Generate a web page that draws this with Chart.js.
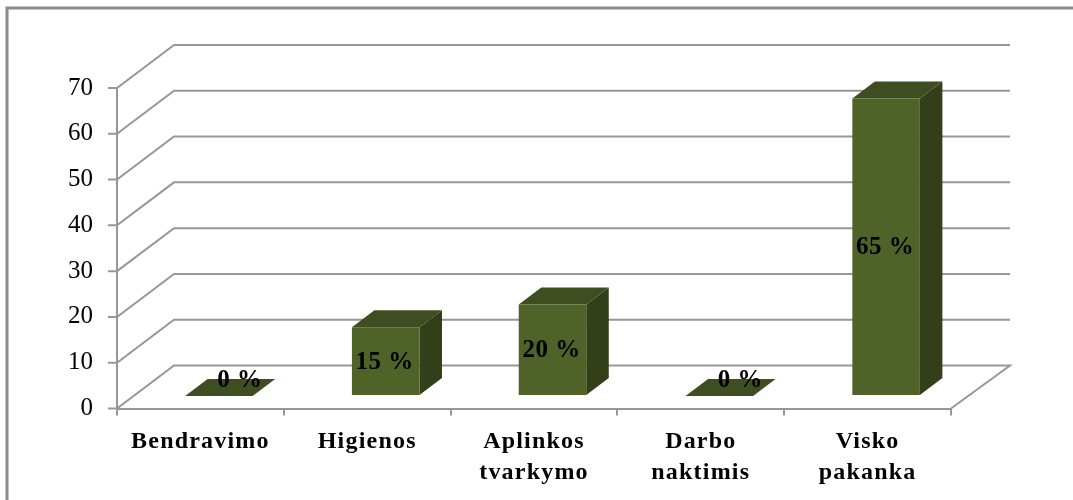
<!DOCTYPE html>
<html lang="lt">
<head>
    <meta charset="UTF-8">
    <title>Chart</title>
    <script src="https://cdn.jsdelivr.net/npm/chart.js"></script>
    <style>
        html, body { margin: 0; padding: 0; background: #fff; overflow: hidden; }
        canvas { display: block; }
    </style>
</head>
<body>
    <canvas id="chart" width="1073" height="500"></canvas>

    <script>
        const categories = [['Bendravimo'], ['Higienos'], ['Aplinkos', 'tvarkymo'], ['Darbo', 'naktimis'], ['Visko', 'pakanka']];
        const values = [0, 15, 20, 0, 65];
        const yTicks = [0, 10, 20, 30, 40, 50, 60, 70];

        const serif = "'Liberation Serif', serif";
        const gridColor = '#979797';
        const depthX = 57, depthY = -43;         // floor depth
        const barShiftX = 18.5, barShiftY = -12.5; // bars stand inside the floor
        const barDepthX = 22.5, barDepthY = -17;

        // frame, walls and floor grid behind the bars
        const wallsPlugin = {
            id: 'walls',
            beforeDraw(chart) {
                const ctx = chart.ctx;
                ctx.save();
                ctx.strokeStyle = '#8a8a8a';
                ctx.lineWidth = 3;
                ctx.beginPath();
                ctx.moveTo(7, 500);
                ctx.lineTo(7, 8);
                ctx.lineTo(1073, 8);
                ctx.stroke();
                ctx.restore();
            },
            beforeDatasetsDraw(chart) {
                const ctx = chart.ctx;
                const { left, right } = chart.chartArea;
                ctx.save();
                ctx.strokeStyle = gridColor;
                ctx.lineWidth = 2;
                yTicks.forEach(v => {
                    const y = chart.scales.y.getPixelForValue(v);
                    ctx.beginPath();
                    ctx.moveTo(left - 9, y);
                    ctx.lineTo(left, y);
                    ctx.lineTo(left + depthX, y + depthY);
                    ctx.lineTo(right + depthX + 2, y + depthY);
                    if (v === 0) ctx.lineTo(right, y);
                    ctx.stroke();
                });
                ctx.restore();
            },
            // bars are moved into the floor, side and top faces added
            beforeDatasetDraw(chart) {
                const ctx = chart.ctx;
                ctx.save();
                ctx.translate(barShiftX, barShiftY);
                chart.getDatasetMeta(0).data.forEach(bar => {
                    const x0 = bar.x - bar.width / 2, x1 = bar.x + bar.width / 2;
                    ctx.fillStyle = '#333f18';
                    ctx.beginPath();
                    ctx.moveTo(x1, bar.y);
                    ctx.lineTo(x1 + barDepthX, bar.y + barDepthY);
                    ctx.lineTo(x1 + barDepthX, bar.base + barDepthY);
                    ctx.lineTo(x1, bar.base);
                    ctx.closePath();
                    ctx.fill();
                    ctx.fillStyle = '#3f4e20';
                    ctx.beginPath();
                    ctx.moveTo(x0, bar.y);
                    ctx.lineTo(x0 + barDepthX, bar.y + barDepthY);
                    ctx.lineTo(x1 + barDepthX, bar.y + barDepthY);
                    ctx.lineTo(x1, bar.y);
                    ctx.closePath();
                    ctx.fill();
                });
            },
            afterDatasetDraw(chart) {
                chart.ctx.restore();
            },
            afterDatasetsDraw(chart) {
                const ctx = chart.ctx;
                ctx.save();
                ctx.font = 'bold 25px ' + serif;
                ctx.letterSpacing = '0.5px';
                ctx.fillStyle = '#000';
                ctx.textAlign = 'center';
                ctx.textBaseline = 'middle';
                chart.getDatasetMeta(0).data.forEach((bar, i) => {
                    // zero labels sit on the top face, shifted to the back
                    const dx = values[i] === 0 ? 21 : -1;
                    const dy = values[i] === 0 ? -15 : 1;
                    const x = bar.x + barShiftX + dx;
                    const y = (bar.y + bar.base) / 2 + barShiftY + dy;
                    ctx.fillText(values[i] + ' %', x, y);
                });
                ctx.restore();
            }
        };

        new Chart(document.getElementById('chart'), {
            type: 'bar',
            data: {
                labels: categories,
                datasets: [{
                    data: values,
                    backgroundColor: '#4f6228',
                    borderWidth: 0,
                    barPercentage: 0.405,
                    categoryPercentage: 1
                }]
            },
            options: {
                responsive: false,
                animation: false,
                layout: { padding: { top: 88, right: 122, left: 0, bottom: 0 } },
                plugins: { legend: { display: false }, tooltip: { enabled: false } },
                scales: {
                    x: {
                        afterFit(scale) {
                            scale.height = 91.5;
                            // category labels are spaced out a little
                            if (!scale.spacedLabels) {
                                const drawLabels = scale.drawLabels;
                                scale.drawLabels = function (area) {
                                    scale.ctx.letterSpacing = '1.2px';
                                    drawLabels.call(scale, area);
                                    scale.ctx.letterSpacing = '0px';
                                };
                                scale.spacedLabels = true;
                            }
                        },
                        grid: { drawOnChartArea: false, color: gridColor, lineWidth: 2, tickLength: 7 },
                        border: { color: gridColor, width: 2 },
                        ticks: {
                            maxRotation: 0,
                            autoSkip: false,
                            padding: 10.5,
                            color: '#000',
                            font: { family: serif, size: 24, weight: 'bold', lineHeight: 1.3 }
                        }
                    },
                    y: {
                        min: 0,
                        max: 70,
                        afterFit(scale) { scale.width = 117; },
                        afterBuildTicks(scale) { scale.ticks = yTicks.map(v => ({ value: v })); },
                        grid: { drawOnChartArea: false, drawTicks: false, color: gridColor, lineWidth: 2 },
                        border: { color: gridColor, width: 2 },
                        ticks: {
                            padding: 24,
                            color: '#000',
                            font: { family: serif, size: 25 }
                        }
                    }
                }
            },
            plugins: [wallsPlugin]
        });
    </script>
</body>
</html>
